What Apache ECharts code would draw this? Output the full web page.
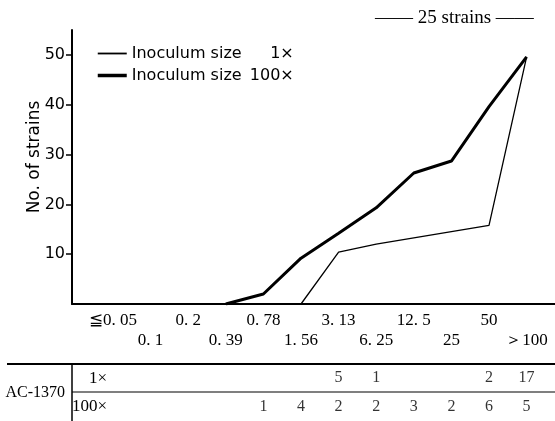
<!DOCTYPE html>
<html>
<head>
<meta charset="utf-8">
<script src="https://cdn.jsdelivr.net/npm/echarts@6/dist/echarts.min.js"></script>
<style>
  html, body { margin: 0; padding: 0; background: #fff; }
  #chart { width: 555px; height: 421px; }
</style>
</head>
<body>
<div id="chart"></div>
<script>
// MIC classes (µg/ml) along the horizontal axis
const categories = ['≦0. 05', '0. 1', '0. 2', '0. 39', '0. 78', '1. 56', '3. 13', '6. 25', '12. 5', '25', '50', '＞100'];
// Left-axis tick values
const yTicks = [10, 20, 30, 40, 50];

// Plotted curve values per MIC class (null = no point at that class)
const curve1x   = [null, null, null, null, null, 0, 10.4, 12, null, null, 15.8, 49.6];
const curve100x = [null, null, null, 0, 2, 9.2, 14.2, 19.3, 26.3, 28.7, 39.6, 49.6];

// Strain counts per MIC class for AC-1370
const tableRows  = ['1×', '100×'];
const count1x    = [null, null, null, null, null, null, 5, 1, null, null, 2, 17];
const count100x  = [null, null, null, null, 1, 4, 2, 2, 3, 2, 6, 5];

const seriesNames = ['Inoculum size 1×', 'Inoculum size 100×'];
const lineWidths = [1.3, 3];

const X_MIN = -1.09, X_MAX = 11.755;
const SERIF = '"Liberation Serif", "Times New Roman", serif';
const SANS = '"DejaVu Sans", sans-serif';

function toPoints(vals) {
  const out = [];
  vals.forEach((v, i) => { if (v !== null) out.push([i, v]); });
  return out;
}

function tableData() {
  const out = [];
  [count1x, count100x].forEach((arr, r) => {
    arr.forEach((c, i) => { if (c !== null) out.push([i, tableRows[r], c]); });
  });
  return out;
}

const chart = echarts.init(document.getElementById('chart'), null, { renderer: 'canvas' });

chart.setOption({
  backgroundColor: '#fff',
  animation: false,
  title: {
    text: '—— 25 strains ——',
    left: 370,
    top: 4,
    textStyle: { fontFamily: SERIF, fontSize: 19, fontWeight: 'normal', color: '#000' }
  },
  legend: {
    orient: 'vertical',
    left: 91,
    top: 40,
    itemWidth: 29,
    itemHeight: 14,
    itemGap: 5,
    data: seriesNames.map((n, k) => ({ name: n, lineStyle: { width: lineWidths[k] + 0.5 } })),
    itemStyle: { color: 'rgba(0,0,0,0)', borderWidth: 0 },
    formatter: function (name) {
      const parts = name.split(' ');
      const mult = parts.pop();
      return '{n|' + parts.join(' ') + '}{m|' + mult + '}';
    },
    textStyle: {
      fontFamily: SANS,
      fontSize: 16,
      color: '#000',
      lineHeight: 17,
      rich: {
        n: { fontFamily: SANS, fontSize: 16, width: 119, color: '#000' },
        m: { fontFamily: SANS, fontSize: 16, width: 43, align: 'right', color: '#000' }
      }
    }
  },
  grid: [
    { left: 72, right: 0, top: 30, bottom: 117 },
    { left: 72, right: 0, top: 364, bottom: 0 }
  ],
  xAxis: [
    {
      gridIndex: 0,
      type: 'value',
      min: X_MIN,
      max: X_MAX,
      axisLine: { show: true, onZero: false, lineStyle: { color: '#000', width: 2 } },
      axisTick: { show: false },
      splitLine: { show: false },
      axisLabel: {
        customValues: categories.map((c, i) => i),
        formatter: function (v) {
          const i = Math.round(v);
          const label = categories[i];
          if (label === undefined) return '';
          return i % 2 ? '\n' + label : label;
        },
        fontFamily: SERIF,
        fontSize: 17,
        lineHeight: 20,
        color: '#000',
        margin: 7
      }
    },
    {
      gridIndex: 1,
      type: 'value',
      min: X_MIN,
      max: X_MAX,
      show: false
    }
  ],
  yAxis: [
    {
      gridIndex: 0,
      type: 'value',
      min: 0,
      max: 55,
      name: 'No. of strains',
      nameLocation: 'middle',
      nameGap: 29,
      nameMoveOverlap: false,
      nameTextStyle: { fontFamily: SANS, fontSize: 17, color: '#000', padding: [0, 0, 0, 20] },
      axisLine: { show: true, onZero: false, lineStyle: { color: '#000', width: 2 } },
      axisTick: { show: true, length: 6, customValues: yTicks, lineStyle: { color: '#000', width: 1.5 } },
      splitLine: { show: false },
      axisLabel: { customValues: yTicks, margin: 7, fontFamily: SANS, fontSize: 16, color: '#000' }
    },
    {
      gridIndex: 1,
      type: 'category',
      inverse: true,
      data: tableRows,
      name: 'AC-1370',
      nameLocation: 'middle',
      nameRotate: 0,
      nameGap: 7,
      nameTextStyle: { fontFamily: SERIF, fontSize: 16, color: '#000' },
      axisLine: { show: true, onZero: false, lineStyle: { color: '#000', width: 1.5 } },
      axisTick: { show: false },
      splitLine: { show: false },
      axisLabel: { inside: true, align: 'right', margin: 35, fontFamily: SERIF, fontSize: 17, color: '#000' }
    }
  ],
  graphic: [
    { type: 'line', shape: { x1: 7, y1: 364, x2: 555, y2: 364 }, style: { stroke: '#000', lineWidth: 1.8 }, silent: true },
    { type: 'line', shape: { x1: 72, y1: 392, x2: 555, y2: 392 }, style: { stroke: '#000', lineWidth: 1.2 }, silent: true }
  ],
  series: [
    {
      name: seriesNames[0],
      type: 'line',
      xAxisIndex: 0,
      yAxisIndex: 0,
      data: toPoints(curve1x),
      symbol: 'none',
      lineStyle: { color: '#000', width: lineWidths[0] },
      itemStyle: { color: '#000' }
    },
    {
      name: seriesNames[1],
      type: 'line',
      xAxisIndex: 0,
      yAxisIndex: 0,
      data: toPoints(curve100x),
      symbol: 'none',
      lineStyle: { color: '#000', width: lineWidths[1] },
      itemStyle: { color: '#000' }
    },
    {
      name: 'AC-1370',
      type: 'scatter',
      xAxisIndex: 1,
      yAxisIndex: 1,
      data: tableData(),
      symbolSize: 1,
      itemStyle: { color: 'rgba(0,0,0,0)' },
      label: {
        show: true,
        position: 'inside',
        formatter: function (p) { return String(p.value[2]); },
        fontFamily: SERIF,
        fontSize: 16,
        color: '#000'
      }
    }
  ]
});
</script>
</body>
</html>
